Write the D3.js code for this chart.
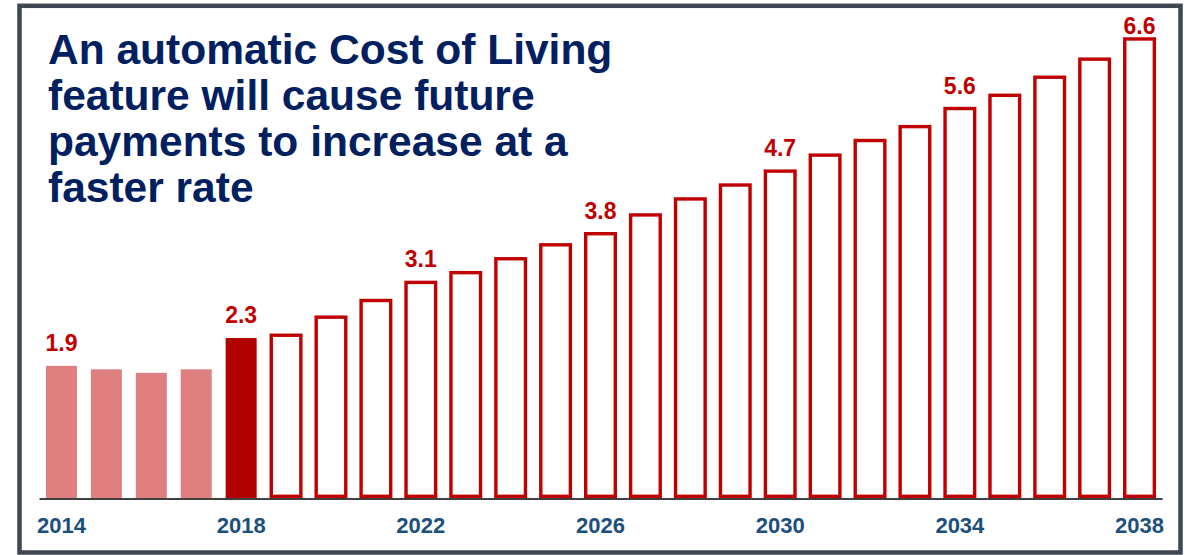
<!DOCTYPE html>
<html>
<head>
<meta charset="utf-8">
<script src="https://cdn.jsdelivr.net/npm/d3@7"></script>
<style>
  html, body { margin: 0; padding: 0; background: #ffffff; }
  svg { display: block; font-family: "Liberation Sans", Arial, sans-serif; }
</style>
</head>
<body>
<svg id="chart" width="1195" height="555"></svg>
<script>
// Payment level by year (2014–2038)
const years = [2014, 2015, 2016, 2017, 2018, 2019, 2020, 2021, 2022, 2023, 2024, 2025, 2026,
               2027, 2028, 2029, 2030, 2031, 2032, 2033, 2034, 2035, 2036, 2037, 2038];
const values = [1.9, 1.85, 1.80, 1.85, 2.3, 2.34, 2.60, 2.84, 3.1, 3.24, 3.44, 3.64, 3.8,
                4.07, 4.30, 4.50, 4.7, 4.93, 5.14, 5.34, 5.6, 5.79, 6.05, 6.31, 6.6];
// Bar treatment: past years, current year, projected years
const kinds = ["past", "past", "past", "past", "current",
               "proj", "proj", "proj", "proj", "proj", "proj", "proj", "proj", "proj", "proj",
               "proj", "proj", "proj", "proj", "proj", "proj", "proj", "proj", "proj", "proj"];
const labelledYears = [2014, 2018, 2022, 2026, 2030, 2034, 2038];
const tickYears = [2014, 2018, 2022, 2026, 2030, 2034, 2038];
const titleLines = ["An automatic Cost of Living", "feature will cause future",
                    "payments to increase at a", "faster rate"];

const svg = d3.select("#chart");

const frame = { x: 19.5, y: 5.8, w: 1161, h: 546.7 };
const baseY = 498;

const x = d3.scaleBand()
  .domain(years)
  .range([39, 1162])
  .paddingInner(0.31)
  .paddingOuter(0.155);

const y = d3.scaleLinear()
  .domain([0, 7])
  .range([baseY, baseY - 7 * 69.55]);

const data = years.map((yr, i) => ({ year: yr, value: values[i], kind: kinds[i] }));

// Outer frame
svg.append("rect")
  .attr("x", frame.x).attr("y", frame.y)
  .attr("width", frame.w).attr("height", frame.h)
  .attr("fill", "#ffffff")
  .attr("stroke", "#3d4651")
  .attr("stroke-width", 4.5);

// Title
const title = svg.append("text")
  .attr("x", 48)
  .attr("y", 64)
  .attr("fill", "#002060")
  .attr("font-size", 42.5)
  .attr("font-weight", "bold");
titleLines.forEach((line, i) => {
  title.append("tspan").attr("x", 48).attr("y", 64 + i * 46).text(line);
});

const fills = { past: "#df7f7f", current: "#b00000" };
const outlineW = 3.4;

// Solid bars (historic and current)
svg.append("g").selectAll("rect")
  .data(data.filter(d => d.kind !== "proj"))
  .join("rect")
  .attr("x", d => x(d.year))
  .attr("y", d => y(d.value))
  .attr("width", x.bandwidth())
  .attr("height", d => baseY - y(d.value))
  .attr("fill", d => fills[d.kind]);

// Outlined bars (projections)
svg.append("g").selectAll("rect")
  .data(data.filter(d => d.kind === "proj"))
  .join("rect")
  .attr("x", d => x(d.year) + outlineW / 2 - 1)
  .attr("y", d => y(d.value))
  .attr("width", x.bandwidth() - outlineW + 2)
  .attr("height", d => baseY - outlineW / 2 - y(d.value))
  .attr("fill", "#ffffff")
  .attr("stroke", "#c00000")
  .attr("stroke-width", outlineW);

// Baseline axis with year ticks
const axis = svg.append("g")
  .attr("transform", `translate(0,${baseY + 0.5})`)
  .call(d3.axisBottom(x).tickValues(tickYears).tickSize(0).tickSizeOuter(0));
axis.select(".domain").attr("stroke", "#000000").attr("stroke-width", 1.6);
axis.selectAll("text")
  .attr("y", 34.5)
  .attr("dy", null)
  .attr("fill", "#1b4f7c")
  .attr("font-size", 22)
  .attr("font-weight", "bold")
  .attr("font-family", "'Liberation Sans', Arial, sans-serif");

// Value labels above selected bars, kept inside the frame
svg.append("g").selectAll("text")
  .data(data.filter(d => labelledYears.includes(d.year)))
  .join("text")
  .attr("x", d => x(d.year) + x.bandwidth() / 2)
  .attr("y", d => Math.max(y(d.value) - 15, frame.y + 28.5))
  .attr("text-anchor", "middle")
  .attr("fill", "#c00000")
  .attr("font-size", 23)
  .attr("font-weight", "bold")
  .text(d => d.value.toFixed(1));
</script>
</body>
</html>
